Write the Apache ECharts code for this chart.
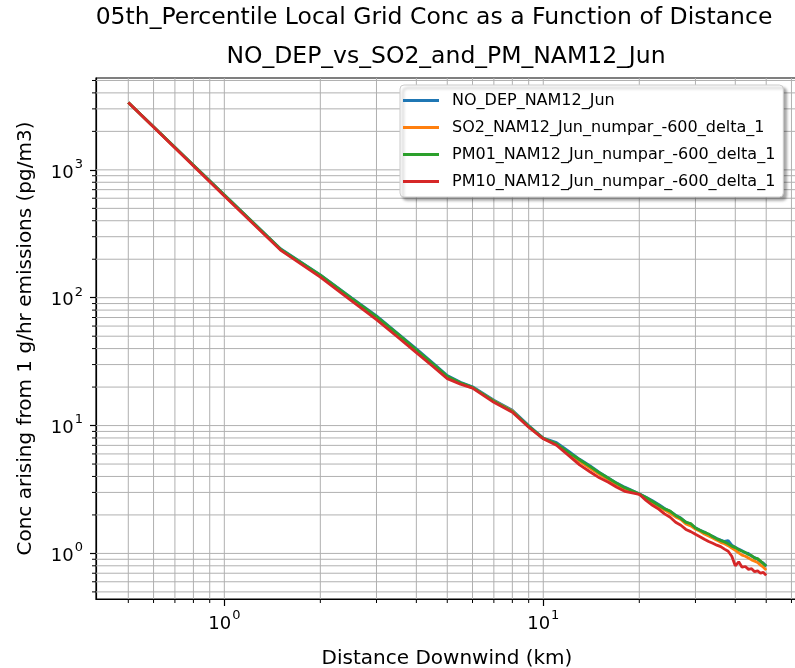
<!DOCTYPE html>
<html><head><meta charset="utf-8">
<script src="https://cdn.jsdelivr.net/npm/echarts@6/dist/echarts.min.js"></script>
<style>html,body{margin:0;padding:0;background:#fff}#c{width:795px;height:668px}</style>
</head><body><div id="c"></div>
<script>
const distance = [0.5,1,1.5,2,2.5,3,3.5,4,4.5,5,5.5,6,7,8,9,10,11,12,13,14,15,16,17,18,19,20,21,22,23,24,25,26,27,28,29,30,31,32,33,34,35,36,37,38,39,40,41,42,43,44,45,46,47,48,49,50];
const noDep = [3370,640,242,151,100,72,52.5,39.8,31,24.6,21.8,20.1,15.8,13.2,10.0,8.0,7.35,6.30,5.45,4.85,4.30,3.90,3.55,3.30,3.10,2.93,2.75,2.58,2.42,2.25,2.13,1.99,1.89,1.76,1.69,1.59,1.52,1.47,1.40,1.36,1.31,1.27,1.24,1.26,1.16,1.12,1.08,1.05,1.01,1.00,0.95,0.93,0.90,0.86,0.84,0.79];
const so2 = [3370,632,238,148,97.5,69.8,50.8,38.4,29.9,23.9,21.4,19.8,15.6,13.0,9.8,7.92,7.15,6.05,5.25,4.65,4.15,3.78,3.45,3.18,3.04,2.90,2.68,2.50,2.33,2.18,2.06,1.93,1.84,1.70,1.64,1.55,1.49,1.42,1.37,1.32,1.27,1.22,1.19,1.15,1.10,1.06,1.01,0.97,0.95,0.92,0.89,0.87,0.85,0.81,0.78,0.74];
const pm01 = [3370,636,240,150,99.3,71.1,51.9,39.2,30.5,24.3,21.6,19.9,15.5,12.9,9.87,7.95,7.20,6.18,5.40,4.80,4.27,3.87,3.53,3.26,3.09,2.92,2.74,2.55,2.38,2.23,2.14,1.98,1.88,1.75,1.71,1.58,1.52,1.46,1.42,1.35,1.30,1.26,1.23,1.19,1.14,1.11,1.07,1.04,1.02,0.98,0.96,0.92,0.91,0.87,0.83,0.80];
const pm10 = [3370,624,236,145,94.9,67.4,49.1,37.2,29.1,23.3,21.1,19.6,15.2,12.7,9.7,7.88,7.01,5.85,4.93,4.35,3.90,3.60,3.29,3.06,2.98,2.90,2.60,2.38,2.22,2.04,1.92,1.75,1.66,1.54,1.48,1.41,1.35,1.29,1.24,1.20,1.16,1.13,1.08,1.04,0.95,0.80,0.86,0.78,0.79,0.75,0.76,0.72,0.73,0.70,0.71,0.673];
const seriesNames = ['NO_DEP_NAM12_Jun','SO2_NAM12_Jun_numpar_-600_delta_1','PM01_NAM12_Jun_numpar_-600_delta_1','PM10_NAM12_Jun_numpar_-600_delta_1'];
const colors = ['#1f77b4','#ff7f0e','#2ca02c','#d62728'];
const xGridVals = [0.5,0.6,0.7,0.8,0.9,1,2,3,4,5,6,7,8,9,10,20,30,40,50,60];
const yGridVals = [0.5,0.6,0.7,0.8,0.9,1,2,3,4,5,6,7,8,9,10,20,30,40,50,60,70,80,90,100,200,300,400,500,600,700,800,900,1000,2000,3000,4000,5000];
const X_MIN = 0.396, X_MAX = 62.9, Y_MIN = 0.44, Y_MAX = 5230;
const titleText = '05th_Percentile Local Grid Conc as a Function of Distance';
const subTitleText = 'NO_DEP_vs_SO2_and_PM_NAM12_Jun';
const FONT = 'DejaVu Sans';

function isDecade(v){const l=Math.log10(v);return Math.abs(l-Math.round(l))<1e-6;}
function decadeLabel(v){ if(!isDecade(v)) return ''; return '{b|10}{s|'+Math.round(Math.log10(v))+'}'; }
const richLbl = { b:{fontSize:18,fontFamily:FONT,color:'#000',lineHeight:24,verticalAlign:'bottom'}, s:{fontSize:13,fontFamily:FONT,color:'#000',lineHeight:24,verticalAlign:'top',padding:[0,0,0,1]} };

const chart = echarts.init(document.getElementById('c'), null, {renderer:'canvas'});
const lineSeries = [noDep, so2, pm01, pm10].map((arr,i)=>({
  name: seriesNames[i], type:'line', data: distance.map((d,j)=>[d,arr[j]]),
  showSymbol:false, symbol:'none', lineStyle:{color:colors[i], width:2.8}, itemStyle:{color:colors[i]},
  z: 3+i, animation:false
}));
const xGridSeries = {
  type:'custom', z:1, silent:true, animation:false, clip:false,
  data: xGridVals.map(v=>[v, Y_MIN]),
  renderItem: (params, api) => {
    const v = api.value(0);
    const top = api.coord([v, Y_MAX]); const bot = api.coord([v, Y_MIN]);
    const ch = [{type:'line', shape:{x1:top[0],y1:top[1],x2:bot[0],y2:bot[1]}, style:{stroke:'#b0b0b0', lineWidth:1}}];
    if(!isDecade(v)) ch.push({type:'line', shape:{x1:bot[0],y1:bot[1],x2:bot[0],y2:bot[1]+4}, style:{stroke:'#000', lineWidth:1}});
    return {type:'group', children: ch};
  }
};
const yGridSeries = {
  type:'custom', z:1, silent:true, animation:false, clip:false,
  data: yGridVals.map(v=>[X_MIN, v]),
  renderItem: (params, api) => {
    const v = api.value(1);
    const l = api.coord([X_MIN, v]); const r = api.coord([X_MAX, v]);
    const ch = [{type:'line', shape:{x1:l[0],y1:l[1],x2:r[0],y2:r[1]}, style:{stroke:'#b0b0b0', lineWidth:1}}];
    if(!isDecade(v)) ch.push({type:'line', shape:{x1:l[0]-4,y1:l[1],x2:l[0],y2:l[1]}, style:{stroke:'#000', lineWidth:1}});
    return {type:'group', children: ch};
  }
};

chart.setOption({
  animation:false,
  backgroundColor:'#fff',
  graphic:[
    {type:'text', x:434, y:18, style:{text:titleText, fontSize:23.5, fontFamily:FONT, fill:'#000', align:'center', verticalAlign:'middle'}},
    {type:'text', x:446, y:57, style:{text:subTitleText, fontSize:23.5, fontFamily:FONT, fill:'#000', align:'center', verticalAlign:'middle'}}
  ],
  grid:{left:96, top:78, width:702, height:521, show:true, borderColor:'#000', borderWidth:1.2, backgroundColor:'transparent', containLabel:false, outerBoundsMode:'none'},
  legend:{
    data: seriesNames, orient:'vertical', left:400, top:85, padding:[6,8,6,3],
    icon:'rect', itemWidth:36, itemHeight:3, itemGap:8,
    textStyle:{fontFamily:FONT, fontSize:16, color:'#000', lineHeight:19, padding:[0,0,0,8]},
    backgroundColor:'#fff', borderColor:'#cccccc', borderWidth:1, borderRadius:4,
    shadowColor:'rgba(0,0,0,0.35)', shadowBlur:3, shadowOffsetX:3, shadowOffsetY:3
  },
  xAxis:{
    type:'log', logBase:10, min:X_MIN, max:X_MAX,
    name:'Distance Downwind (km)', nameLocation:'middle', nameGap:50,
    nameTextStyle:{fontFamily:FONT, fontSize:20, color:'#000'},
    axisLine:{show:true, lineStyle:{color:'#000', width:1.2}},
    axisTick:{show:true, length:7, lineStyle:{color:'#000', width:1.2}},
    axisLabel:{formatter:decadeLabel, rich:richLbl, margin:10, showMinLabel:false, showMaxLabel:false},
    splitLine:{show:false}, minorTick:{show:false}
  },
  yAxis:{
    type:'log', logBase:10, min:Y_MIN, max:Y_MAX,
    name:'Conc arising from 1 g/hr emissions (pg/m3)', nameLocation:'middle', nameGap:60,
    nameTextStyle:{fontFamily:FONT, fontSize:20, color:'#000'},
    axisLine:{show:true, lineStyle:{color:'#000', width:1.2}},
    axisTick:{show:true, length:6, lineStyle:{color:'#000', width:1.2}},
    axisLabel:{formatter:decadeLabel, rich:richLbl, margin:13, showMinLabel:false, showMaxLabel:false},
    splitLine:{show:false}, minorTick:{show:false}
  },
  series:[xGridSeries, yGridSeries].concat(lineSeries)
});
</script></body></html>
